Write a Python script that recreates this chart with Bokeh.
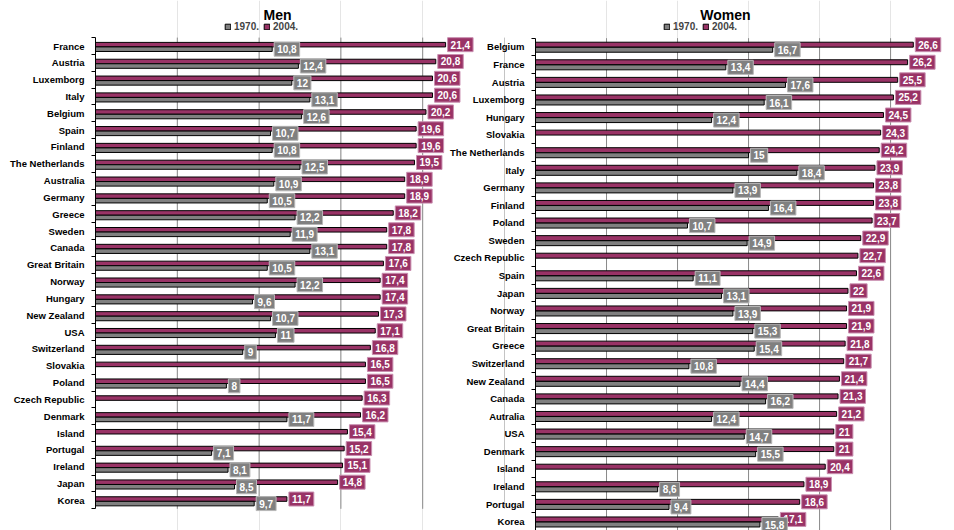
from math import nan

from bokeh.core.properties import value
from bokeh.embed import file_html
from bokeh.layouts import row
from bokeh.models import (ColumnDataSource, FixedTicker, Label, Legend,
                          LegendItem, Range1d)
from bokeh.plotting import figure
from bokeh.resources import INLINE
from bokeh.transform import dodge

# --- data -----------------------------------------------------------------
men_countries = [
    "France", "Austria", "Luxemborg", "Italy", "Belgium", "Spain", "Finland",
    "The Netherlands", "Australia", "Germany", "Greece", "Sweden", "Canada",
    "Great Britain", "Norway", "Hungary", "New Zealand", "USA", "Switzerland",
    "Slovakia", "Poland", "Czech Republic", "Denmark", "Island", "Portugal",
    "Ireland", "Japan", "Korea",
]
men_1970 = [10.8, 12.4, 12, 13.1, 12.6, 10.7, 10.8, 12.5, 10.9, 10.5, 12.2,
            11.9, 13.1, 10.5, 12.2, 9.6, 10.7, 11, 9, None, 8, None, 11.7,
            None, 7.1, 8.1, 8.5, 9.7]
men_2004 = [21.4, 20.8, 20.6, 20.6, 20.2, 19.6, 19.6, 19.5, 18.9, 18.9, 18.2,
            17.8, 17.8, 17.6, 17.4, 17.4, 17.3, 17.1, 16.8, 16.5, 16.5, 16.3,
            16.2, 15.4, 15.2, 15.1, 14.8, 11.7]

women_countries = [
    "Belgium", "France", "Austria", "Luxemborg", "Hungary", "Slovakia",
    "The Netherlands", "Italy", "Germany", "Finland", "Poland", "Sweden",
    "Czech Republic", "Spain", "Japan", "Norway", "Great Britain", "Greece",
    "Switzerland", "New Zealand", "Canada", "Autralia", "USA", "Denmark",
    "Island", "Ireland", "Portugal", "Korea",
]
women_1970 = [16.7, 13.4, 17.6, 16.1, 12.4, None, 15, 18.4, 13.9, 16.4, 10.7,
              14.9, None, 11.1, 13.1, 13.9, 15.3, 15.4, 10.8, 14.4, 16.2, 12.4,
              14.7, 15.5, None, 8.6, 9.4, 15.8]
women_2004 = [26.6, 26.2, 25.5, 25.2, 24.5, 24.3, 24.2, 23.9, 23.8, 23.8, 23.7,
              22.9, 22.7, 22.6, 22, 21.9, 21.9, 21.8, 21.7, 21.4, 21.3, 21.2,
              21, 21, 20.4, 18.9, 18.6, 17.1]

grid_ticks = [5, 10, 15, 20, 25]

# --- style ----------------------------------------------------------------
PLUM = "#993366"
GREY = "#808080"
FONT = "Liberation Sans"
HEIGHT = 530


def fmt(v):
    return f"{v:g}".replace(".", ",")


def panel(title, countries, v70, v04, *, width, right, x_end, row_px,
          header_px, footer_px, off04, off70, bar_h, title_x, legend_x,
          margin=None):
    n = len(countries)
    idx = list(range(n))
    # the frame covers the whole height; rows sit between a header strip
    # (title + legend) and an optional empty strip underneath
    y_top = -0.5 - header_px / row_px
    y_bottom = n - 0.5 + footer_px / row_px
    p = figure(width=width, height=HEIGHT, title=None,
               x_range=Range1d(0, x_end), y_range=Range1d(y_bottom, y_top),
               x_axis_location=None,
               output_backend="svg", toolbar_location=None,
               min_border_left=95, min_border_right=right,
               min_border_top=0, min_border_bottom=0,
               background_fill_color=None, border_fill_color=None,
               outline_line_color=None)
    if margin is not None:
        p.margin = margin
    p.ygrid.visible = False

    # vertical grid lines, limited to the rows
    p.segment(x0=grid_ticks, x1=grid_ticks, y0=-0.5, y1=n - 0.5,
              line_color="#8a8a8a", line_width=1)

    # category axis: names at row centres, tick marks between rows
    ax = p.yaxis[0]
    ax.bounds = (-0.5, n - 0.5)
    ax.ticker = FixedTicker(ticks=idx,
                            minor_ticks=[i - 0.5 for i in range(n + 1)])
    ax.major_label_overrides = {i: c for i, c in enumerate(countries)}
    ax.major_tick_line_color = None
    ax.major_tick_out = 0
    ax.major_tick_in = 0
    ax.minor_tick_line_color = "black"
    ax.minor_tick_out = 4
    ax.minor_tick_in = 0
    ax.axis_line_color = "black"
    ax.major_label_standoff = 7
    ax.major_label_text_font = FONT
    ax.major_label_text_font_style = "bold"
    ax.major_label_text_font_size = "9.5px"
    ax.major_label_text_color = "black"

    src = ColumnDataSource(dict(
        y=idx,
        v70=[nan if v is None else v for v in v70],
        v04=v04,
    ))
    r04 = p.hbar(y=dodge("y", off04), left=0, right="v04", height=bar_h,
                 source=src, fill_color=PLUM, line_color="black",
                 line_width=1)
    r70 = p.hbar(y=dodge("y", off70), left=0, right="v70", height=bar_h,
                 source=src, fill_color=GREY, line_color="black",
                 line_width=1)

    lab70 = [(i, v) for i, v in enumerate(v70) if v is not None]
    s70 = ColumnDataSource(dict(y=[i for i, _ in lab70],
                                x=[v for _, v in lab70],
                                t=[fmt(v) for _, v in lab70]))
    s04 = ColumnDataSource(dict(y=idx, x=v04, t=[fmt(v) for v in v04]))

    for s, off, fill, edge in ((s04, off04, PLUM, "#c98fb0"),
                               (s70, off70, GREY, "#b8b8b8")):
        p.text(x="x", y=dodge("y", off), text="t", source=s,
               x_offset=2, text_align="left", text_baseline="middle",
               text_color="white", text_font=value(FONT),
               text_font_style="bold", text_font_size=value("10px"),
               background_fill_color=fill, border_line_color=edge,
               border_line_width=1, padding=3)

    # heading and legend in the header strip (screen units from the
    # frame's bottom-left corner)
    p.add_layout(Label(x=title_x, y=HEIGHT - 14, x_units="screen",
                       y_units="screen", text=title, text_align="center",
                       text_baseline="middle", text_font=FONT,
                       text_font_style="bold", text_font_size="14px",
                       text_color="black"))

    legend = Legend(items=[LegendItem(label="1970.", renderers=[r70]),
                           LegendItem(label="2004.", renderers=[r04])],
                    orientation="horizontal",
                    location=(legend_x, HEIGHT - 32),
                    glyph_width=7, glyph_height=7, label_height=10,
                    label_standoff=3, spacing=4, padding=0, margin=0,
                    border_line_color=None, background_fill_color=None,
                    label_text_font=FONT, label_text_font_style="bold",
                    label_text_font_size="10px")
    p.add_layout(legend)
    return p


men = panel("Men", men_countries, men_1970, men_2004,
            width=506, right=2, x_end=25, row_px=16.83,
            header_px=37.1, footer_px=21.7,
            off04=-0.08, off70=0.19, bar_h=0.27,
            title_x=182, legend_x=129)

women = panel("Women", women_countries, women_1970, women_2004,
              width=514, right=0, x_end=29.5, row_px=17.6,
              header_px=37.7, footer_px=0,
              off04=-0.13, off70=0.16, bar_h=0.28,
              title_x=190, legend_x=128,
              margin=(0, 0, 0, -66))

layout = row(men, women)
open("out.html", "w").write(file_html(layout, INLINE))
